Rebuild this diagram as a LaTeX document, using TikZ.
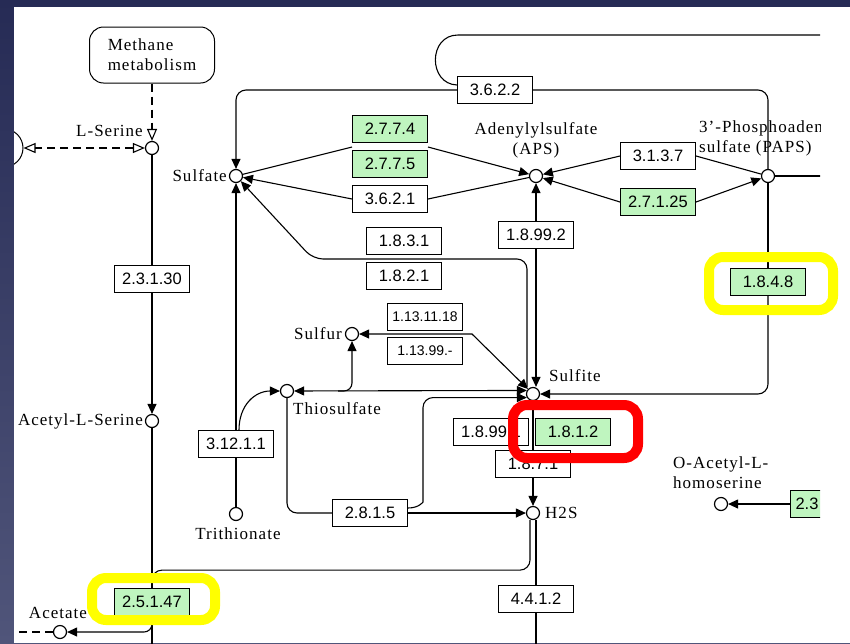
\documentclass[tikz,border=0pt]{standalone}
\usepackage{fontspec}
\setmainfont{Liberation Serif}[LetterSpace=6]
\setsansfont{Liberation Sans}
\usetikzlibrary{arrows.meta}
\definecolor{keggreen}{HTML}{BFF5BF}
\definecolor{slidetop}{HTML}{262B55}
\definecolor{slidebot}{HTML}{50557A}
\definecolor{hlyellow}{HTML}{FFFF00}
\definecolor{hlred}{HTML}{FF0000}
\tikzset{
  ec/.style={draw,line width=1pt,fill=white,minimum width=75pt,minimum height=27pt,inner sep=0pt,font=\sffamily\fontsize{16.5}{18}\selectfont},
  ecg/.style={ec,fill=keggreen},
  cmpd/.style={circle,draw,line width=1.2pt,fill=white,minimum size=13pt,inner sep=0pt},
  lbl/.style={inner sep=0pt,font=\fontsize{17}{20}\selectfont},
  rxn/.style={line width=1.1pt},
  dashrxn/.style={line width=1.1pt,dash pattern=on 8pt off 5pt},
  hilite/.style={line width=10pt,rounded corners=14pt},
  >={Triangle[length=10pt,width=9pt]},
  opentip/.tip={Triangle[length=12pt,width=10pt,fill=white]}
}
\newcommand{\compound}[3]{\node[cmpd] (#1) at (#2,#3) {};}

\begin{document}
\begin{tikzpicture}[x=1pt,y=-1pt]
\useasboundingbox (0,0) rectangle (850,643);
\shade[top color=slidetop,bottom color=slidebot] (0,0) rectangle (850,643);
\fill[white] (14,7) rectangle (850,643);
\begin{scope}
\clip (14,7) rectangle (820,643);
\node[draw,line width=1pt,rounded corners=14pt,minimum width=125pt,minimum height=56pt,lbl,align=left] (methane) at (152,55) {Methane\\metabolism};
\node[draw,line width=1pt,rounded corners=19pt,minimum width=100pt,minimum height=38pt] (leftmap) at (-27,148) {};
\compound{serine}{152}{148}
\compound{acser}{152}{421}
\compound{acetate}{60}{632}
\compound{sulfate}{236}{176}
\compound{aps}{536}{176}
\compound{paps}{768}{176}
\compound{sulfur}{352}{334}
\compound{thiosulfate}{287}{391}
\compound{sulfite}{533}{394}
\compound{trithionate}{236}{514}
\compound{h2s}{533}{513}
\compound{oahs}{721}{504}
\node[lbl,anchor=east] (serinelbl) at (143,131) {L-Serine};
\node[lbl,anchor=east] (acserlbl) at (143,421) {Acetyl-L-Serine};
\node[lbl] (acetatelbl) at (58,613) {Acetate};
\node[lbl,anchor=east] (sulfatelbl) at (227,176) {Sulfate};
\node[lbl,align=center] (apslbl) at (536,140) {Adenylylsulfate\\(APS)};
\node[lbl,align=left,anchor=west] (papslbl) at (699,138) {3'-Phosphoaden\\sulfate (PAPS)};
\node[lbl,anchor=east] (sulfurlbl) at (342,334) {Sulfur};
\node[lbl,anchor=west] (thiolbl) at (293,409) {Thiosulfate};
\node[lbl,anchor=west] (sulfitelbl) at (549,376) {Sulfite};
\node[lbl] (trilbl) at (238,534) {Trithionate};
\node[lbl,anchor=west] (h2slbl) at (545,513) {H2S};
\node[lbl,align=left,anchor=west] (oahslbl) at (673,473) {O-Acetyl-L-\\homoserine};
\node[ec] (ec23130) at (152,279) {2.3.1.30};
\node[ecg] (ec25147) at (152,602) {2.5.1.47};
\node[ec] (ec3622) at (495,90) {3.6.2.2};
\node[ecg] (ec2774) at (390,129) {2.7.7.4};
\node[ecg] (ec2775) at (390,164) {2.7.7.5};
\node[ec] (ec3621) at (390,199) {3.6.2.1};
\node[ec] (ec3137) at (658,156) {3.1.3.7};
\node[ecg] (ec27125) at (658,202) {2.7.1.25};
\node[ec] (ec18992) at (536,235) {1.8.99.2};
\node[ec] (ec1831) at (404,241) {1.8.3.1};
\node[ec] (ec1821) at (404,276) {1.8.2.1};
\node[ecg] (ec1848) at (768,282) {1.8.4.8};
\node[ec,font=\sffamily\fontsize{14}{16}\selectfont] (ec113111) at (425,317) {1.13.11.18};
\node[ec,font=\sffamily\fontsize{14}{16}\selectfont] (ec11399) at (425,351) {1.13.99.-};
\node[ec] (ec31211) at (236,444) {3.12.1.1};
\node[ec] (ec18991) at (491,432) {1.8.99.1};
\node[ecg] (ec1812) at (573,432) {1.8.1.2};
\node[ec] (ec1871) at (533,464) {1.8.7.1};
\node[ec] (ec2815) at (370,513) {2.8.1.5};
\node[ec] (ec4412) at (536,599) {4.4.1.2};
\node[ecg,align=left,text width=65pt] (ec2331) at (828,504) {2.3};
\coordinate (cysbottom) at (152,650);
\coordinate (acetateedge) at (10,632);
\coordinate (h2sbottom) at (536,650);
\coordinate (loopend) at (825,35);
\coordinate (papsedge) at (825,176);
\coordinate (jleft) at (352,147);
\coordinate (jright) at (428,147);
\coordinate (bend1) at (313,259);
\coordinate (bend2) at (472,334);
\coordinate (branch) at (338,391);
\draw[dashrxn,-opentip] (methane.south) -- (serine.north);
\draw[dashrxn,opentip-opentip] (serine.west) -- (leftmap.east);
\draw[rxn] (serine) -- (ec23130);
\draw[rxn,->] (ec23130) -- (acser);
\draw[rxn] (acser) -- (ec25147);
\draw[rxn] (ec25147) -- (cysbottom);
\draw[rxn,->,rounded corners=8pt] (ec25147.south) |- (acetate);
\draw[dashrxn] (acetate) -- (acetateedge);
\draw[rxn,rounded corners=10pt] ([xshift=-3pt]h2s.south) -- ++(0,50) -| (ec25147.north);
\draw[rxn] ([xshift=3pt]h2s.south) -- (ec4412.north);
\draw[rxn] (ec4412) -- (h2sbottom);
\draw[rxn,->,rounded corners=10pt] (ec3622.west) -| (sulfate.north);
\draw[rxn,rounded corners=10pt] (ec3622.east) -| (paps.north);
\draw[rxn] ([yshift=5pt]ec3622.west) .. controls (428,84) and (428,35) .. (458,35) -- (loopend);
\draw[rxn] (sulfate) -- (jleft);
\draw[rxn,->] (jright) -- (aps);
\draw[rxn] (aps) -- (ec3621.east);
\draw[rxn,->] (ec3621.west) -- (sulfate);
\draw[rxn] (paps) -- (ec3137.east);
\draw[rxn,->] (ec3137.west) -- (aps);
\draw[rxn,->] (ec27125.west) -- (aps);
\draw[rxn,->] (ec27125.east) -- (paps);
\draw[rxn] (paps) -- (papsedge);
\draw[rxn] (paps) -- (ec1848);
\draw[rxn,->,rounded corners=10pt] (ec1848.south) |- (sulfite.east);
\draw[rxn,->] (ec18992) -- (aps);
\draw[rxn,->] (ec18992.south) -- (ec18992.south |- sulfite.north);
\draw[rxn,->,rounded corners=10pt] ([xshift=-6pt]sulfite.north) |- (bend1) -- (sulfate);
\draw[rxn,<->] (sulfur) -- (bend2) -- (sulfite);
\draw[rxn,<->] (thiosulfate) -- (sulfite.150);
\draw[rxn,->,rounded corners=8pt] (branch) -| (sulfur.south);
\draw[rxn,rounded corners=10pt] (thiosulfate) |- (ec2815.west);
\draw[rxn,->] (ec2815.east) -- (h2s);
\draw[rxn,->,rounded corners=10pt] ([yshift=5pt]ec2815.east) .. controls (419,508) and (423,502) .. (423,492) |- (sulfite.210);
\draw[rxn] (sulfite) -- (ec1871);
\draw[rxn,->] (ec1871) -- (h2s);
\draw[rxn,->] (ec31211) -- (sulfate);
\draw[rxn] (ec31211) -- (trithionate);
\draw[rxn,->] ([xshift=3pt]ec31211.north) .. controls (239,405) and (255,391) .. (thiosulfate.west);
\draw[rxn,->] (ec2331) -- (oahs);
\end{scope}
\draw[hilite,hlyellow] (709,257) rectangle (833,310);
\draw[hilite,hlyellow] (92,578) rectangle (215,620);
\draw[hilite,hlred] (513,405) rectangle (638,458);
\end{tikzpicture}
\end{document}
